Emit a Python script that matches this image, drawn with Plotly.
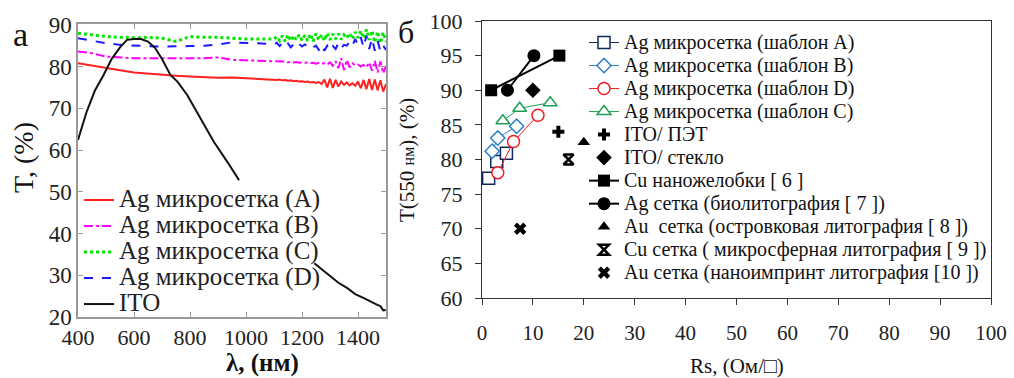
import plotly.graph_objects as go

W, H = 1014, 378
SERIF = "Liberation Serif"

# ---------------- Panel (a): transmission spectra ----------------
wl = list(range(400, 1101, 50)) + list(range(1110, 1501, 10))

T_A = [80.8, 80.2, 79.6, 79.1, 78.6, 78.3, 78.0, 77.8, 77.6, 77.4, 77.3, 77.4, 77.2, 77.0, 76.9,
       76.8, 76.9, 76.7, 76.8, 76.6, 76.7, 76.5, 76.6, 76.4, 76.5,
       76.3, 76.4, 76.2, 76.3, 76.1, 76.3, 75.8, 76.9, 75.0, 77.1,
       74.9, 76.8, 75.2, 76.4, 75.6, 76.2, 75.5, 76.0, 75.4, 76.4,
       74.8, 76.8, 74.6, 77.0, 74.4, 76.9, 74.3, 76.7, 74.0, 75.8]
T_B = [83.6, 83.2, 82.4, 82.2, 82.0, 82.0, 82.0, 82.0, 82.0, 82.0, 82.2, 81.6, 81.5, 81.4, 81.3,
       81.2, 81.3, 81.1, 81.2, 81.0, 81.2, 81.0, 81.1, 80.9, 81.0,
       80.9, 81.0, 80.8, 80.9, 80.7, 80.9, 80.7, 80.8, 80.5, 81.0,
       80.2, 81.3, 79.6, 82.0, 79.2, 81.6, 79.8, 80.8, 80.3, 80.5,
       80.0, 80.4, 79.8, 81.0, 79.0, 81.4, 78.6, 81.2, 78.4, 80.2]
T_C = [88.0, 87.6, 87.2, 87.0, 86.9, 87.0, 86.8, 86.0, 87.2, 87.0, 87.0, 86.8, 86.6, 86.6, 86.6,
       87.2, 86.2, 87.4, 86.0, 87.6, 86.2, 87.4, 86.4, 87.6, 86.3,
       87.5, 86.2, 87.8, 86.0, 87.9, 86.4, 87.6, 86.2, 88.0, 86.4,
       87.8, 86.6, 87.9, 86.5, 87.6, 86.8, 88.0, 86.6, 88.3, 86.9,
       88.6, 86.8, 88.9, 86.4, 88.6, 85.8, 88.4, 85.6, 88.2, 86.0]
T_D = [86.8, 86.2, 85.6, 85.2, 85.0, 84.9, 84.8, 84.8, 84.9, 85.0, 85.3, 85.8, 85.7, 85.5, 85.4,
       85.7, 84.9, 85.6, 84.8, 85.5, 84.6, 85.4, 84.7, 85.4, 84.8,
       85.3, 84.8, 85.2, 84.6, 85.0, 84.0, 85.2, 83.8, 85.0, 83.9,
       84.9, 84.2, 85.6, 84.4, 85.2, 85.0, 86.0, 85.0, 86.6, 85.2,
       87.0, 84.6, 87.4, 84.2, 86.8, 83.8, 86.2, 83.6, 85.0, 84.0]

wl_ito = [400, 430, 460, 490, 520, 550, 575, 600, 625, 650, 675, 700, 730, 755, 790, 840, 885, 935, 975,
          None,
          1244, 1270, 1302, 1330, 1362, 1390, 1421, 1445, 1469, 1480, 1490, 1499]
T_ito = [62.4, 69.0, 74.2, 77.8, 81.8, 84.6, 86.4, 86.6, 86.6, 86.0, 84.5, 81.8, 78.0, 76.4, 73.2, 67.4, 62.0, 57.0, 52.8,
         None,
         32.9, 31.5, 29.6, 28.2, 26.9, 25.5, 24.5, 23.6, 22.9, 22.6, 21.6, 21.7]

names_a = ["Ag микросетка (A)", "Ag микросетка (B)", "Ag микросетка (C)", "Ag микросетка (D)", "ITO"]

# ---------------- Panel (б): T(550 nm) vs Rs ----------------
rsA = [1.3, 2.9, 4.8];  tA = [77.3, 79.7, 80.9]
rsB = [2.0, 3.1, 6.8];  tB = [81.2, 83.1, 84.8]
rsD = [3.1, 6.2, 11.0]; tD = [78.1, 82.6, 86.4]
rsC = [4.1, 7.4, 13.4]; tC = [85.6, 87.4, 88.2]
rs_ito_pet = [15.0];   t_ito_pet = [84.0]
rs_ito_gl = [10.0];    t_ito_gl = [90.0]
rs_cu_ng = [1.8, 15.2]; t_cu_ng = [90.0, 95.0]
rs_ag_bio = [5.0, 10.2]; t_ag_bio = [90.0, 95.0]
rs_au_isl = [20.0];    t_au_isl = [82.5]
rs_cu_ms = [17.0];     t_cu_ms = [80.0]
rs_au_ni = [7.5];      t_au_ni = [70.0]

names_b = ["Ag микросетка (шаблон A)", "Ag микросетка (шаблон B)", "Ag микросетка (шаблон D)",
           "Ag микросетка (шаблон C)", "ITO/ ПЭТ", "ITO/ стекло", "Cu наножелобки [ 6 ]",
           "Ag сетка (биолитография [ 7 ])", "Au  сетка (островковая литография [ 8 ])",
           "Cu сетка ( микросферная литография [ 9 ])", "Au сетка (наноимпринт литография [10 ])"]

LEG_A_TXT = 25   # visible text size in legend of panel a
LEG_B_TXT = 20   # visible text size in legend of panel b


def lab(s, size):
    return "<span style='font-size:%dpx'>%s</span>" % (size, s)


fig = go.Figure()

# panel a traces
styles_a = [dict(color="#ff2020", width=2),
            dict(color="#ff00ff", width=2, dash="dashdot"),
            dict(color="#00e600", width=3, dash="dot"),
            dict(color="#1a1aff", width=2, dash="dash")]
for ys, nm, st in zip([T_A, T_B, T_C, T_D], names_a[:4], styles_a):
    fig.add_trace(go.Scatter(x=wl, y=ys, mode="lines", name=lab(nm, LEG_A_TXT),
                             line=st, legend="legend"))
fig.add_trace(go.Scatter(x=wl_ito, y=T_ito, mode="lines", name=lab(names_a[4], LEG_A_TXT), connectgaps=False,
                         line=dict(color="#111111", width=2), legend="legend"))


# panel b traces
def add_b(x, y, name, mode, color, symbol, size, lw=1, mlw=1.5, fill="white"):
    fig.add_trace(go.Scatter(
        x=x, y=y, mode=mode, name=lab(name, LEG_B_TXT), xaxis="x2", yaxis="y2", legend="legend2",
        line=dict(color=color, width=lw),
        marker=dict(symbol=symbol, size=size, color=fill,
                    line=dict(color=color, width=mlw))))


add_b(rsA, tA, names_b[0], "lines+markers", "#0d2a5c", "square", 12)
add_b(rsB, tB, names_b[1], "lines+markers", "#2f7fc8", "diamond", 11)
add_b(rsD, tD, names_b[2], "lines+markers", "#ee1c24", "circle", 12)
add_b(rsC, tC, names_b[3], "lines+markers", "#1e9e55", "triangle-up", 12)
add_b(rs_ito_pet, t_ito_pet, names_b[4], "markers", "#000000", "cross", 10, mlw=0, fill="#000")
add_b(rs_ito_gl, t_ito_gl, names_b[5], "markers", "#000000", "diamond", 12, mlw=0, fill="#000")
add_b(rs_cu_ng, t_cu_ng, names_b[6], "lines+markers", "#000000", "square", 12, lw=2, mlw=0, fill="#000")
add_b(rs_ag_bio, t_ag_bio, names_b[7], "lines+markers", "#000000", "circle", 13, lw=2, mlw=0, fill="#000")
add_b(rs_au_isl, t_au_isl, names_b[8], "markers", "#000000", "triangle-up", 11, mlw=0, fill="#000")
add_b(rs_cu_ms, t_cu_ms, names_b[9], "markers", "#000000", "hourglass-open", 10, mlw=2.5, fill="#000")
add_b(rs_au_ni, t_au_ni, names_b[10], "markers", "#000000", "x", 11, mlw=0, fill="#000")


def px_x(p): return p / W
def px_y(p): return 1 - p / H


gray = "#9a9a9a"
fig.update_layout(
    width=W, height=H, margin=dict(l=0, r=0, t=0, b=0, autoexpand=False),
    paper_bgcolor="white", plot_bgcolor="white",
    font=dict(family=SERIF, color="#111111"),
    xaxis=dict(domain=[px_x(78), px_x(386)], range=[400, 1500], tickvals=[400, 600, 800, 1000, 1200, 1400],
               ticks="inside", ticklen=5, tickcolor=gray, showline=True, linecolor=gray, linewidth=1.5,
               mirror="ticks", showgrid=False, zeroline=False, automargin=False, ticklabelstandoff=0,
               tickfont=dict(family=SERIF, size=22, color="#222")),
    yaxis=dict(domain=[px_y(317), px_y(24)], range=[20, 90.2], tickvals=[20, 30, 40, 50, 60, 70, 80, 90],
               ticks="inside", ticklen=5, tickcolor=gray, showline=True, linecolor=gray, linewidth=1.5,
               mirror="ticks", showgrid=False, zeroline=False, automargin=False,
               tickfont=dict(family=SERIF, size=23, color="#222")),
    xaxis2=dict(domain=[px_x(482), px_x(991)], range=[0, 100], dtick=10, anchor="y2",
                ticks="outside", ticklen=6, tickcolor="#333", showline=True, linecolor="#333", linewidth=1,
                mirror=True, showgrid=False, zeroline=False, ticklabelstandoff=10, automargin=False,
                tickfont=dict(family=SERIF, size=21, color="#222")),
    yaxis2=dict(domain=[px_y(298), px_y(21)], range=[60, 100], dtick=5, anchor="x2",
                ticks="outside", ticklen=6, tickcolor="#333", showline=True, linecolor="#333", linewidth=1,
                mirror=True, showgrid=False, zeroline=False, ticklabelstandoff=8, automargin=False,
                tickfont=dict(family=SERIF, size=22, color="#222")),
    legend=dict(x=px_x(79), y=px_y(182), xanchor="left", yanchor="top", bgcolor="rgba(0,0,0,0)",
                font=dict(family=SERIF, size=17.7, color="#222"), tracegroupgap=0, itemwidth=30),
    legend2=dict(x=px_x(584), y=px_y(26), xanchor="left", yanchor="top", bgcolor="rgba(0,0,0,0)",
                 font=dict(family=SERIF, size=15.4, color="#111"), tracegroupgap=0, itemwidth=30),
    showlegend=True,
)

ann = [
    dict(text="а", x=20, y=35, size=34, angle=0),
    dict(text="б", x=406, y=32, size=32, angle=0),
    dict(text="T, (%)", x=24, y=158, size=28, angle=-90),
    dict(text="<b>λ, (нм)</b>", x=262, y=363, size=25, angle=0),
    dict(text="T(550 <span style='font-size:16px'>нм</span>), (%)", x=407, y=160, size=21, angle=-90),
    dict(text="Rs, (Ом/□)", x=737, y=366, size=21, angle=0),
]
for a in ann:
    fig.add_annotation(text=a["text"], x=px_x(a["x"]), y=px_y(a["y"]), xref="paper", yref="paper",
                       showarrow=False, textangle=a["angle"], xanchor="center", yanchor="middle",
                       font=dict(family=SERIF, size=a["size"], color="#111"))

fig.write_html("out.html", config={"displayModeBar": False},
               post_script="document.body.style.margin='0px';document.body.style.overflow='hidden';")
